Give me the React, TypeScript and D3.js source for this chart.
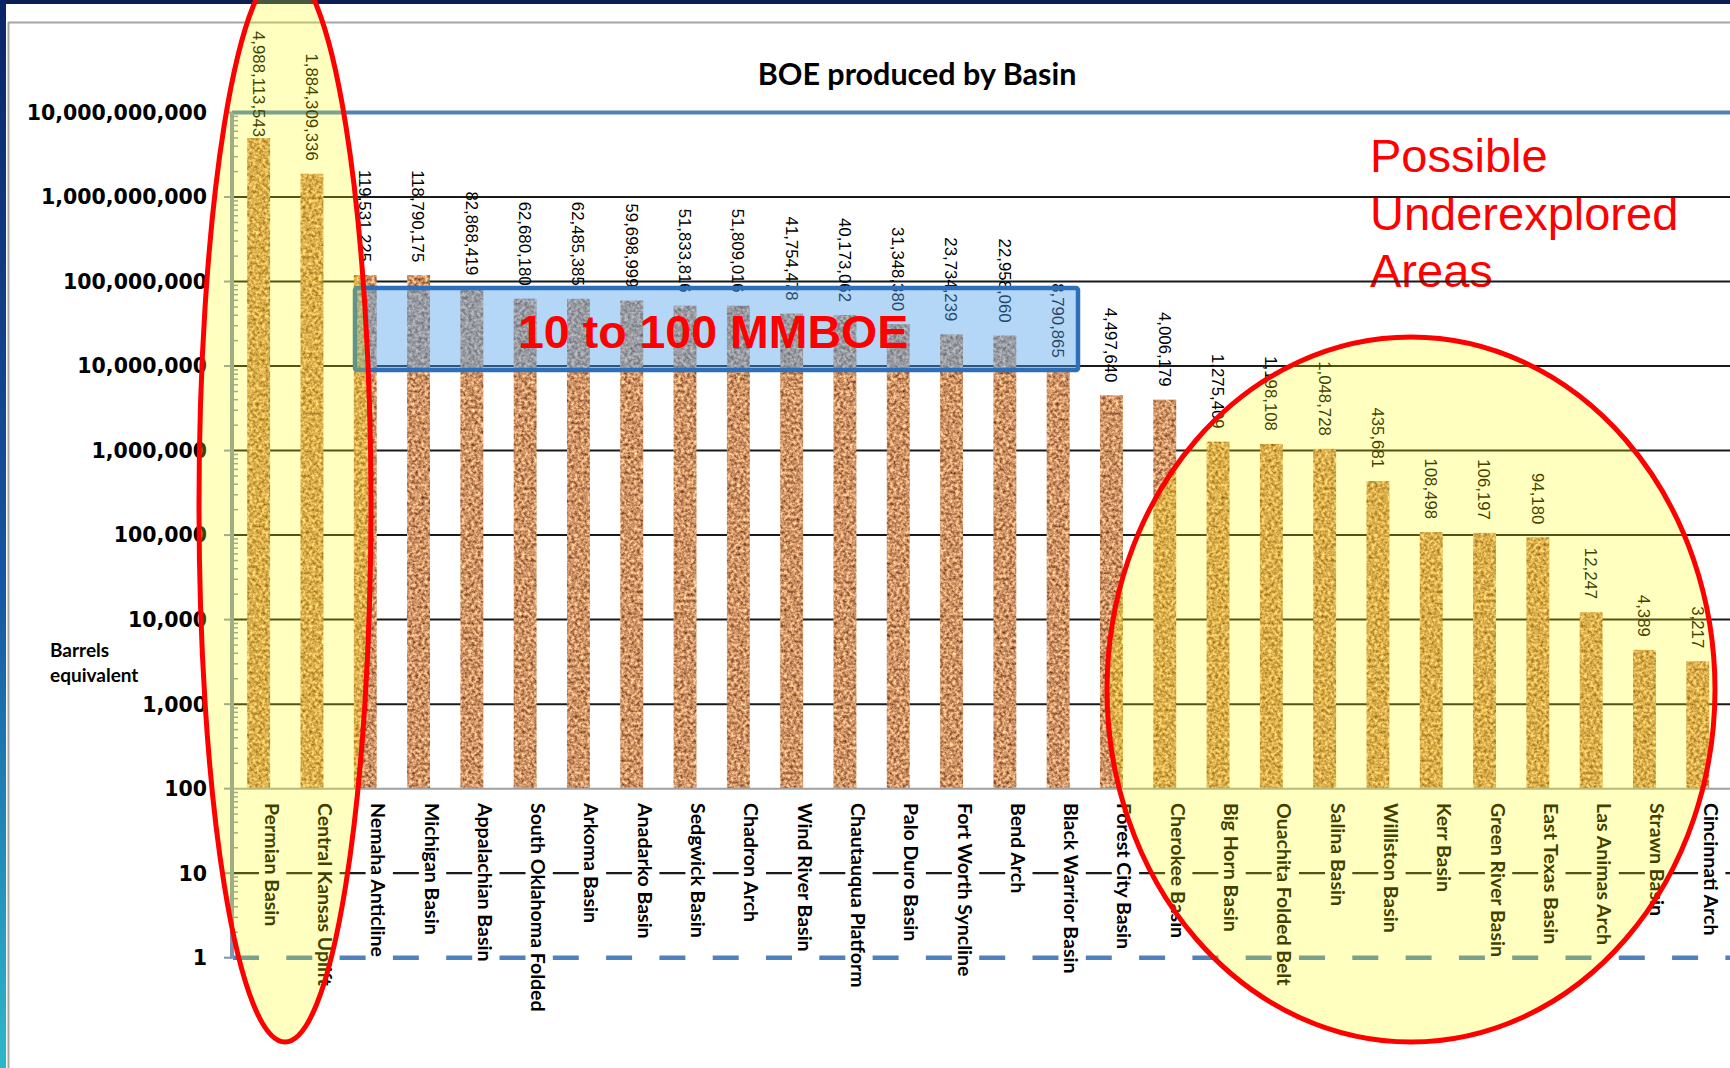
import * as d3 from "d3";

const W = 1730;
const H = 1068;

const basins = [
  "Permian Basin", "Central Kansas Uplift", "Nemaha Anticline", "Michigan Basin",
  "Appalachian Basin", "South Oklahoma Folded", "Arkoma Basin", "Anadarko Basin",
  "Sedgwick Basin", "Chadron Arch", "Wind River Basin", "Chautauqua Platform",
  "Palo Duro Basin", "Fort Worth Syncline", "Bend Arch", "Black Warrior Basin",
  "Forest City Basin", "Cherokee Basin", "Big Horn Basin", "Ouachita Folded Belt",
  "Salina Basin", "Williston Basin", "Kerr Basin", "Green River Basin",
  "East Texas Basin", "Las Animas Arch", "Strawn Basin", "Cincinnati Arch",
];

const boe = [
  4988113543, 1884309336, 119531225, 118790175, 82868419, 62680180, 62485385,
  59698999, 51833816, 51809016, 41754478, 40173062, 31348380, 23734239,
  22958060, 8790865, 4497640, 4006179, 1275409, 1198108, 1048728, 435681,
  108498, 106197, 94180, 12247, 4389, 3217,
];

const yTicks = [1, 10, 100, 1e3, 1e4, 1e5, 1e6, 1e7, 1e8, 1e9, 1e10];
const blackGrid = [1e3, 1e4, 1e5, 1e6, 1e7, 1e8, 1e9];

const underexplored = ["Possible", "Underexplored", "Areas"];

export default function App() {
  const x = d3.scaleBand<string>().domain(basins).range([232, 1724.4]).padding(0);
  const y = d3.scaleLog().domain([1, 1e10]).range([957.7, 112.5]);
  const step = x.step();
  const barW = step * 0.43;
  const fmt = d3.format(",");
  const minor = d3.range(0, 10).flatMap((k) => d3.range(2, 10).map((m) => m * 10 ** k));

  const labelFs = 16.8;
  const labelLen = (s: string) => {
    const digits = s.replace(/,/g, "").length;
    return labelFs * (digits * 0.556 + (s.length - digits) * 0.278);
  };

  const axisColor = "#8093b3";
  const serif = "'Liberation Sans', Arial, sans-serif";
  const lato = "Lato, 'Open Sans', sans-serif";

  return (
    <svg
      width={W}
      height={H}
      style={{ position: "absolute", left: 0, top: 0, background: "#fff" }}
    >
      <defs>
        <linearGradient id="frame-grad" x1="0" y1="0" x2="0" y2="1">
          <stop offset="0%" stopColor="#0b2466" />
          <stop offset="55%" stopColor="#1656a4" />
          <stop offset="100%" stopColor="#2cb8c8" />
        </linearGradient>
        <filter
          id="cork"
          x="0"
          y="0"
          width="1"
          height="1"
          colorInterpolationFilters="sRGB"
        >
          <feTurbulence type="fractalNoise" baseFrequency="0.32" numOctaves="3" seed="7" result="n" />
          <feColorMatrix
            in="n"
            type="matrix"
            values="1.0 0 0 0 0.31  1.0 0 0 0 0.08  0.8 0 0 0 0.0  0 0 0 0 1"
            result="c"
          />
          <feComposite in="c" in2="SourceGraphic" operator="in" />
        </filter>
      </defs>

      {/* slide frame */}
      <rect x={0} y={0} width={W} height={H} fill="#fff" />
      <rect x={0} y={0} width={W} height={4} fill="#0b1f55" />
      <rect x={0} y={0} width={6} height={H} fill="url(#frame-grad)" />
      <line x1={8.5} y1={22} x2={8.5} y2={H} stroke="#a6a6a6" strokeWidth={2} />
      <line x1={8} y1={22.5} x2={W} y2={22.5} stroke="#a6a6a6" strokeWidth={2} />

      {/* title */}
      <text
        x={917}
        y={85}
        textAnchor="middle"
        fontFamily={lato}
        fontWeight={700}
        fontSize={30.5}
        fill="#000"
      >
        BOE produced by Basin
      </text>

      {/* red annotation text, under the gridlines */}
      {underexplored.map((t, i) => (
        <text
          key={t}
          x={1370}
          y={172 + i * 57.5}
          fontFamily={serif}
          fontSize={47}
          fill="#ff0000"
        >
          {t}
        </text>
      ))}

      {/* gridlines */}
      {blackGrid.map((v) => (
        <line key={v} x1={232} x2={W} y1={y(v)} y2={y(v)} stroke="#1a1a1a" strokeWidth={2} />
      ))}
      <line
        x1={233}
        x2={W}
        y1={y(10)}
        y2={y(10)}
        stroke="#1a1a1a"
        strokeWidth={2.2}
        strokeDasharray={`26 ${step - 26}`}
      />
      <line
        x1={233}
        x2={W}
        y1={y(1)}
        y2={y(1)}
        stroke="#4f81bd"
        strokeWidth={4.5}
        strokeDasharray={`26 ${step - 26}`}
      />
      <line x1={232} x2={W} y1={y(1e10)} y2={y(1e10)} stroke="#4f81bd" strokeWidth={4} />

      {/* bars */}
      {basins.map((b, i) => {
        const cx = (x(b) as number) + step / 2;
        return (
          <rect
            key={b}
            x={cx - barW / 2}
            y={y(boe[i])}
            width={barW}
            height={y(100) - y(boe[i])}
            fill="#c98d5e"
            filter="url(#cork)"
          />
        );
      })}

      {/* category axis at 100 */}
      <line x1={232} x2={W} y1={y(100)} y2={y(100)} stroke="#a0a0a0" strokeWidth={2} />

      {/* value axis */}
      <line x1={232} x2={232} y1={y(1e10)} y2={y(1) + 1} stroke={axisColor} strokeWidth={4} />
      {yTicks.map((v) => (
        <line key={v} x1={224} x2={232} y1={y(v)} y2={y(v)} stroke={axisColor} strokeWidth={2} />
      ))}
      {minor.map((v) => (
        <line key={v} x1={232} x2={238} y1={y(v)} y2={y(v)} stroke={axisColor} strokeWidth={1.5} />
      ))}
      {yTicks.map((v) => (
        <text
          key={v}
          x={207}
          y={y(v)}
          dy="0.36em"
          textAnchor="end"
          fontFamily="'DejaVu Sans', sans-serif"
          fontWeight={700}
          fontSize={20.5}
          fill="#000"
        >
          {fmt(v)}
        </text>
      ))}
      <text fontFamily={lato} fontWeight={700} fontSize={19} fill="#000">
        <tspan x={50} y={657}>Barrels</tspan>
        <tspan x={50} y={682}>equivalent</tspan>
      </text>

      {/* data labels */}
      {basins.map((b, i) => {
        const cx = (x(b) as number) + step / 2;
        const s = fmt(boe[i]);
        const end = y(boe[i]) - 13;
        const clamp = end - labelLen(s) < 31;
        return (
          <text
            key={b}
            transform={`translate(${cx},${clamp ? 31 : end}) rotate(90)`}
            textAnchor={clamp ? "start" : "end"}
            dy="0.36em"
            fontFamily={serif}
            fontSize={labelFs}
            fill="#000"
          >
            {s}
          </text>
        );
      })}

      {/* category labels */}
      {basins.map((b) => {
        const cx = (x(b) as number) + step / 2;
        return (
          <text
            key={b}
            transform={`translate(${cx + 6},803) rotate(90)`}
            fontFamily={lato}
            fontWeight={700}
            fontSize={19.5}
            fill="#000"
          >
            {b}
          </text>
        );
      })}

      {/* 10 to 100 MMBOE box */}
      <rect
        x={355}
        y={288}
        width={723}
        height={82}
        fill="rgb(84,164,239)"
        fillOpacity={0.44}
        stroke="#2e6fba"
        strokeWidth={4.5}
        rx={2}
      />
      <text
        x={518}
        y={348}
        fontFamily={serif}
        fontWeight={700}
        fontSize={46.5}
        fill="#ff0000"
      >
        10 to 100 MMBOE
      </text>

      {/* highlight ellipses */}
      <ellipse
        cx={285}
        cy={505}
        rx={86}
        ry={537}
        fill="#ffff00"
        fillOpacity={0.25}
        stroke="#ff0000"
        strokeWidth={5}
      />
      <ellipse
        cx={1411}
        cy={689.5}
        rx={304}
        ry={352.5}
        fill="#ffff00"
        fillOpacity={0.25}
        stroke="#ff0000"
        strokeWidth={5}
      />
    </svg>
  );
}
